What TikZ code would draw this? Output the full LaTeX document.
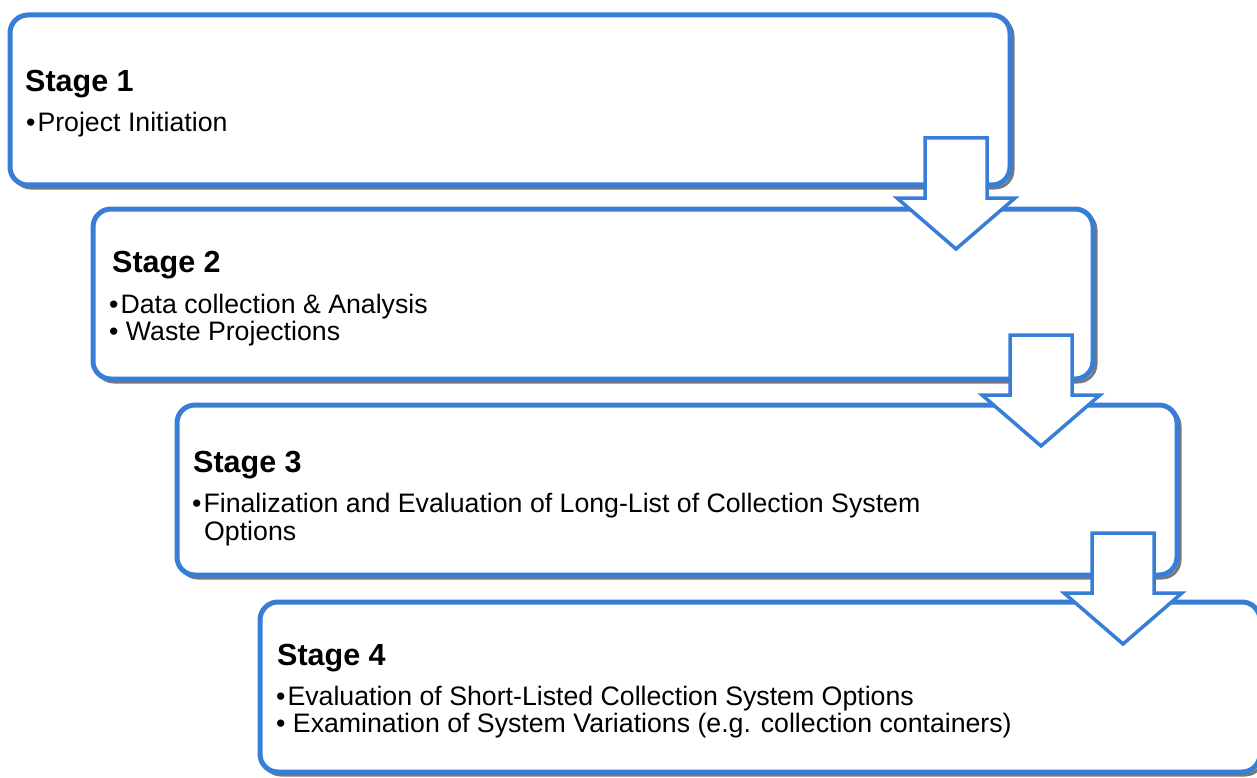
\documentclass[tikz,border=0pt]{standalone}
\usepackage{fontspec}
\setmainfont{Liberation Sans}
\definecolor{stageblue}{RGB}{56,126,214}
\definecolor{shadowgrey}{RGB}{120,120,120}
\pgfdeclarelayer{background}
\pgfsetlayers{background,main}
\newcommand{\itembullet}{•\kern2pt}
\begin{document}
\begin{tikzpicture}[x=1pt,y=-1pt,
  stagebox/.style={rectangle, draw=stageblue, line width=5pt, fill=white,
    rounded corners=18pt, inner sep=0pt, outer sep=0pt,
    minimum width=1000pt, minimum height=170pt},
  boxshadow/.style={draw=shadowgrey, line width=3pt, rounded corners=18pt},
  title/.style={anchor=base west, inner sep=0pt, font=\fontsize{30.5}{36}\selectfont\bfseries},
  item/.style={anchor=base west, inner sep=0pt, font=\fontsize{26.7}{28}\selectfont},
  flowarrow/.style={draw=stageblue, line width=3.5pt, fill=white, line join=miter},
  downarrow/.pic={\draw[flowarrow] (-31,0) -- (31,0) -- (31,60) -- (59,60)
      -- (0,111) -- (-59,60) -- (-31,60) -- cycle;}]
\useasboundingbox (0,0) rectangle (1257,778);

% stage boxes
\node[stagebox] (s1) at (510,100) {};
\node[stagebox] (s2) at (593,294) {};
\node[stagebox] (s3) at (677,490) {};
\node[stagebox] (s4) at (760,687) {};

% grey drop shadows below and right of each box
\begin{pgfonlayer}{background}
  \foreach \b in {s1,s2,s3,s4}
    \draw[boxshadow] ([shift={(3,3)}]\b.north west) rectangle ([shift={(3,3)}]\b.south east);
\end{pgfonlayer}

% stage texts
\node[title] (t1) at (25,92) {Stage 1};
\node[item] (i11) at (26,132) {\itembullet Project Initiation};

\node[title] (t2) at (112,272) {Stage 2};
\node[item] (i21) at (109,313) {\itembullet Data collection \& Analysis};
\node[item] (i22) at (109,340) {• Waste Projections};

\node[title] (t3) at (193,472) {Stage 3};
\node[item] (i31) at (192,512) {\itembullet Finalization and Evaluation of Long-List of Collection System};
\node[item] (i32) at (204,540) {Options};

\node[title] (t4) at (277,665) {Stage 4};
\node[item] (i41) at (276,705) {\itembullet Evaluation of Short-Listed Collection System Options};
\node[item] (i42) at (276,732) {• Examination of System Variations (e.g. collection containers)};

% hollow block arrows between the stages
\pic at (956,138) {downarrow};
\pic at (1041,335) {downarrow};
\pic at (1123,533) {downarrow};
\end{tikzpicture}
\end{document}
